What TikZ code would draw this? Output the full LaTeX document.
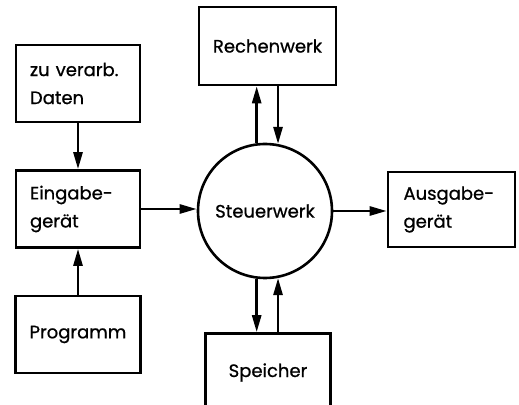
\documentclass[tikz,border=0pt]{standalone}
\usepackage{fontspec}
\newfontfamily\lab{Poppins}[FakeBold=0.8]
\usetikzlibrary{arrows.meta}

\begin{document}
\begin{tikzpicture}[x=0.5pt,y=-0.5pt,line width=1.3pt,
    every node/.append style={font=\lab\fontsize{9}{14}\selectfont},
    box/.style={draw,minimum width=62pt,minimum height=38.5pt,inner xsep=7pt},
    twoline/.style={text width=48pt,align=left},
    pfeil/.style={-{Triangle[length=8.5pt,width=4.5pt]}}]
  \useasboundingbox (0,0) rectangle (519,405);
  \clip (0,0) rectangle (519,405);
  \node[box,twoline] (D) at (78,83.5) {zu verarb.\\Daten};
  \node[box,twoline] (E) at (78,209) {Eingabe-\\gerät};
  \node[box] (P) at (78,334.5) {Programm};
  \node[draw,circle,minimum size=67pt,inner sep=0pt] (S) at (265,211) {Steuerwerk};
  \node[box,minimum width=62.5pt,minimum height=39pt] (R) at (267.5,46) {Rechenwerk};
  \node[box,minimum width=62.5pt,minimum height=39pt] (M) at (268,372.5) {Speicher};
  \node[box,minimum width=63.5pt,minimum height=37.5pt,inner xsep=7.75pt,
        text width=48pt,align=left] (A) at (451.5,209.5) {Ausgabe-\\gerät};
  \draw[pfeil] (D) -- (E);
  \draw[pfeil] (P) -- (E);
  \draw[pfeil] (E.east) -- (E.east -| S.west);
  \draw[pfeil] (S.east) -- (S.east -| A.west);
  \draw[pfeil] (S.97) -- (S.97 |- R.south);
  \draw[pfeil] (S.79 |- R.south) -- (S.79);
  \draw[pfeil] (S.263) -- (S.263 |- M.north);
  \draw[pfeil] (S.281 |- M.north) -- (S.281);
\end{tikzpicture}
\end{document}
